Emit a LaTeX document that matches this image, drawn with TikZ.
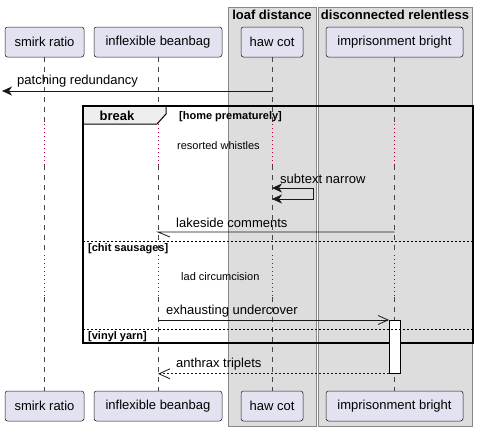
\documentclass[tikz,border=0pt]{standalone}
\usepackage{fontspec}
\setmainfont{Liberation Sans}
\usetikzlibrary{arrows.meta, positioning, calc}
\definecolor{partfill}{HTML}{E2E2F0}
\definecolor{partline}{HTML}{181818}
\definecolor{boxfill}{HTML}{DDDDDD}
\definecolor{boxline}{HTML}{888888}
\definecolor{tabfill}{HTML}{EEEEEE}
\definecolor{delayred}{HTML}{A80036}
\newcommand{\bigtxt}{\fontsize{13}{15}\selectfont}
\newcommand{\smalltxt}{\fontsize{11}{13}\selectfont}

\tikzset{
  participant/.style={draw=partline, fill=partfill, rounded corners=2.5pt, line width=0.5pt,
    minimum height=30pt, inner sep=0pt, font=\bigtxt},
  lifeline/.style={draw=partline!80, line width=0.5pt, dash pattern=on 5pt off 5pt},
  delayline/.style={draw=delayred, line width=0.8pt, dash pattern=on 1pt off 3pt},
  msg/.style={draw=partline, line width=0.8pt},
  reply/.style={msg, dash pattern=on 2pt off 2pt},
  lbl/.style={anchor=west, inner sep=0pt, font=\bigtxt},
  guard/.style={anchor=west, inner sep=0pt, font=\smalltxt\bfseries},
  grouptitle/.style={inner sep=0pt, font=\bigtxt\bfseries},
  separator/.style={draw=black, line width=0.8pt, dash pattern=on 2pt off 2pt}
}

\begin{document}
\begin{tikzpicture}[x=1pt, y=-1pt]
    \useasboundingbox (0,0) rectangle (479,432);

    % Boxes
    \draw[boxline, fill=boxfill, line width=1pt] (228,7) rectangle (316,426);
    \draw[boxline, fill=boxfill, line width=1pt] (318,7) rectangle (472,426);
    \node[grouptitle] (loaf) at (272,15) {loaf distance};
    \node[grouptitle] (discon) at (395,15) {disconnected relentless};

    % Participants
    \node[participant, minimum width=79pt] (smirk-top) at (44.5,42) {smirk ratio};
    \node[participant, minimum width=128pt] (infl-top) at (158,42) {inflexible beanbag};
    \node[participant, minimum width=62pt] (haw-top) at (272,42) {haw cot};
    \node[participant, minimum width=137pt] (impr-top) at (394.5,42) {imprisonment bright};
    \node[participant, minimum width=79pt] (smirk-bot) at (44.5,406) {smirk ratio};
    \node[participant, minimum width=128pt] (infl-bot) at (158,406) {inflexible beanbag};
    \node[participant, minimum width=62pt] (haw-bot) at (272,406) {haw cot};
    \node[participant, minimum width=137pt] (impr-bot) at (394.5,406) {imprisonment bright};

    % Lifelines with delays
    \coordinate (d1) at (0,124);
    \coordinate (d2) at (0,165);
    \coordinate (d3) at (0,255);
    \coordinate (d4) at (0,297);
    \foreach \p in {smirk, infl, haw, impr} {
        \draw[lifeline] (\p-top.south) -- (\p-top.south |- d1);
        \draw[delayline] (\p-top.south |- d1) -- (\p-top.south |- d2);
        \draw[lifeline] (\p-top.south |- d2) -- (\p-top.south |- d3);
        \draw[delayline] (\p-top.south |- d3) -- (\p-top.south |- d4);
        \draw[lifeline] (\p-top.south |- d4) -- (\p-bot.north);
    }

    % Message to the left edge
    \coordinate (edge) at (2,91);
    \draw[msg, -{Stealth[length=10pt, width=9pt, inset=3pt]}] (haw-top.south |- edge) -- (edge);
    \node[lbl] (patching) at (17,81) {patching redundancy};

    % Break frame
    \draw[fill=tabfill, line width=1pt] (83,106) -- (166,106) -- (166,114) -- (157,124) -- (83,124) -- cycle;
    \node[grouptitle] (brk) at (117,115.5) {break};
    \draw[line width=1.6pt] (83,106) rectangle (473,343);
    \node[guard] (g1) at (179,117) {[home prematurely]};
    \node[anchor=west, inner sep=0pt, font=\smalltxt] (resorted) at (177,146) {resorted whistles};

    % Self message
    \coordinate (s1) at (313,188);
    \coordinate (s2) at (313,199);
    \draw[msg, {Stealth[length=10pt, width=9pt, inset=3pt]}-{Stealth[length=10pt, width=9pt, inset=3pt]}]
        (haw-top.south |- s1) -- (s1) -- (s2) -- (haw-top.south |- s2);
    \node[lbl] (subtext) at (280,179) {subtext narrow};

    % lakeside
    \coordinate (lk) at (0,232);
    \draw[msg] (impr-top.south |- lk) -- (infl-top.south |- lk) -- ++(12,5);
    \node[lbl] (lakeside) at (176,223) {lakeside comments};

    % else 1
    \draw[separator] (83,241) -- (473,241);
    \node[guard] (g2) at (88,249) {[chit sausages]};
    \node[anchor=west, inner sep=0pt, font=\smalltxt] (lad) at (181,277) {lad circumcision};

    % Activation
    \node[draw=black, fill=white, line width=0.8pt, minimum width=11pt, minimum height=53pt, inner sep=0pt,
        anchor=north west] (act) at (389,320) {};

    % exhausting
    \draw[msg, -{Straight Barb[length=10pt, width=9pt]}] (infl-top.south |- act.north west) -- (act.north west);
    \node[lbl] (exhaust) at (166,311) {exhausting undercover};

    % else 2
    \draw[separator] (83,329) -- (473,329);
    \node[guard] (g3) at (88,337) {[vinyl yarn]};

    % anthrax
    \draw[reply, -{Straight Barb[length=11pt, width=10pt]}] (act.south west) -- (infl-top.south |- act.south west);
    \node[lbl] (anthrax) at (176,364) {anthrax triplets};
\end{tikzpicture}
\end{document}
